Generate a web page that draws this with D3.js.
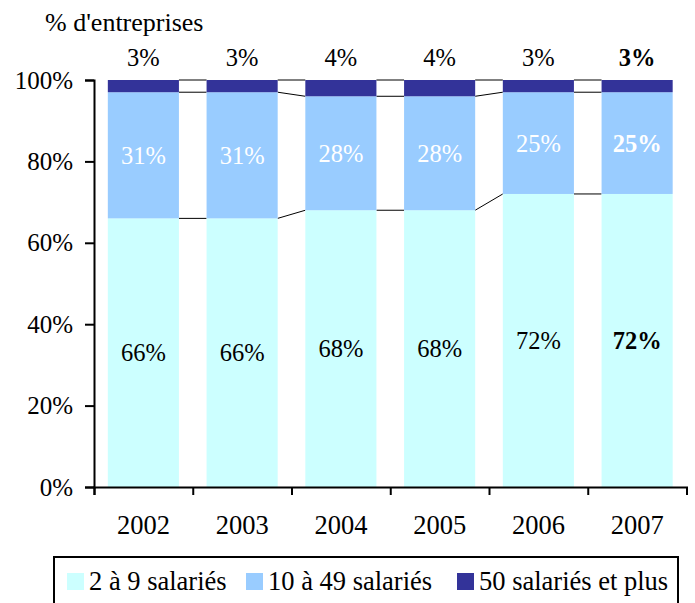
<!DOCTYPE html>
<html>
<head>
<meta charset="utf-8">
<script src="https://cdn.jsdelivr.net/npm/d3@7"></script>
<style>
  body { margin: 0; background: #fff; }
  svg, svg text { font-family: "Liberation Serif", "Times New Roman", serif; }
</style>
</head>
<body>
<div id="chart"></div>
<script>
// data
const years = ["2002", "2003", "2004", "2005", "2006", "2007"];
const small = [66, 66, 68, 68, 72, 72];   // 2 à 9 salariés
const medium = [31, 31, 28, 28, 25, 25];  // 10 à 49 salariés
const large = [3, 3, 4, 4, 3, 3];         // 50 salariés et plus
const seriesNames = ["2 à 9 salariés", "10 à 49 salariés", "50 salariés et plus"];
const seriesColors = ["#ccffff", "#99ccff", "#333399"];
const yTicks = [0, 20, 40, 60, 80, 100];

const width = 695, height = 603;
const margin = { top: 80, right: 8.5, bottom: 116, left: 94 };
const innerW = width - margin.left - margin.right;
const innerH = height - margin.top - margin.bottom;

const svg = d3.select("#chart").append("svg")
  .attr("width", width)
  .attr("height", height);

const g = svg.append("g")
  .attr("transform", `translate(${margin.left},${margin.top})`);

// scales
const x = d3.scaleBand()
  .domain(years)
  .range([0, innerW])
  .paddingInner(0.28)
  .paddingOuter(0.14);

// category boundaries for the x ticks
const xb = d3.scaleLinear().domain([0, years.length]).range([0, innerW]);

const y = d3.scaleLinear().domain([0, 100]).range([innerH, 0]);

// stacked table
const table = years.map((yr, i) => ({ year: yr, s0: small[i], s1: medium[i], s2: large[i] }));
const stack = d3.stack().keys(["s0", "s1", "s2"])(table);

// series lines between bars
[0, 1, 2].forEach(k => {
  for (let i = 0; i < years.length - 1; i++) {
    g.append("line")
      .attr("x1", x(years[i]) + x.bandwidth())
      .attr("x2", x(years[i + 1]))
      .attr("y1", y(stack[k][i][1]))
      .attr("y2", y(stack[k][i + 1][1]))
      .attr("stroke", "#000")
      .attr("stroke-width", 1);
  }
});

// bars
stack.forEach((s, k) => {
  g.selectAll(null)
    .data(s)
    .join("rect")
    .attr("x", d => x(d.data.year))
    .attr("width", x.bandwidth())
    .attr("y", d => y(d[1]))
    .attr("height", d => y(d[0]) - y(d[1]))
    .attr("fill", seriesColors[k]);
});

const isLast = (d, i) => i === years.length - 1 ? "bold" : "normal";

// labels inside bars
[0, 1].forEach(k => {
  g.selectAll(null)
    .data(stack[k])
    .join("text")
    .attr("x", d => x(d.data.year) + x.bandwidth() / 2)
    .attr("y", d => y((d[0] + d[1]) / 2))
    .attr("dy", "0.35em")
    .attr("text-anchor", "middle")
    .attr("font-size", 24.5)
    .attr("font-weight", isLast)
    .attr("fill", k === 1 ? "#fff" : "#000")
    .text(d => (d[1] - d[0]) + "%");
});

// labels above bars
g.selectAll(null)
  .data(stack[2])
  .join("text")
  .attr("x", d => x(d.data.year) + x.bandwidth() / 2)
  .attr("y", -14)
  .attr("text-anchor", "middle")
  .attr("font-size", 24.5)
  .attr("font-weight", isLast)
  .text(d => (d[1] - d[0]) + "%");

// y axis
const yAxis = g.append("g")
  .call(d3.axisLeft(y).tickValues(yTicks).tickSize(9).tickPadding(12).tickFormat(d => d + "%"));
yAxis.selectAll("text").attr("font-size", 25).attr("fill", "#000");
yAxis.select(".domain").attr("stroke-width", 2);
yAxis.selectAll(".tick line").attr("stroke-width", 2);

// x axis
const xAxis = g.append("g")
  .attr("transform", `translate(0,${innerH})`)
  .call(d3.axisBottom(xb).tickValues(d3.range(years.length + 1)).tickSize(8).tickFormat(""));
xAxis.select(".domain").attr("stroke-width", 2);
xAxis.selectAll(".tick line").attr("stroke-width", 2);

g.selectAll(null)
  .data(years)
  .join("text")
  .attr("x", d => x(d) + x.bandwidth() / 2)
  .attr("y", innerH + 47)
  .attr("text-anchor", "middle")
  .attr("font-size", 26.5)
  .text(d => d);

// title
svg.append("text")
  .attr("x", 45)
  .attr("y", 31)
  .attr("font-size", 26)
  .text("% d'entreprises");

// legend
const legend = svg.append("g");
legend.append("rect")
  .attr("x", 54).attr("y", 557)
  .attr("width", 624).attr("height", 60)
  .attr("fill", "none")
  .attr("stroke", "#000")
  .attr("stroke-width", 2);

const legendX = [67, 246, 457];
seriesNames.forEach((name, i) => {
  legend.append("rect")
    .attr("x", legendX[i]).attr("y", 573)
    .attr("width", 17).attr("height", 17)
    .attr("fill", seriesColors[i]);
  legend.append("text")
    .attr("x", legendX[i] + 22)
    .attr("y", 590)
    .attr("font-size", 26.5)
    .text(name);
});
</script>
</body>
</html>
